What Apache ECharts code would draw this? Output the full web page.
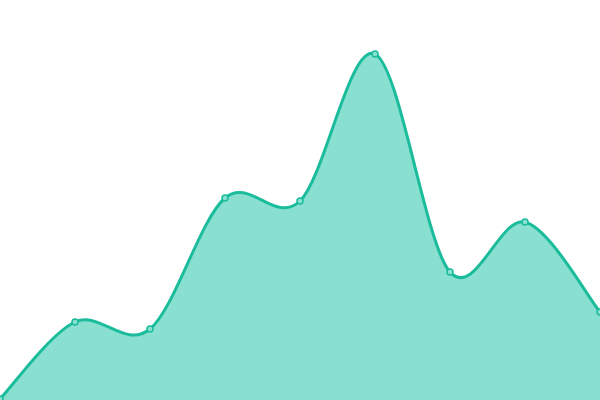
<!DOCTYPE html>
<html>
<head>
<meta charset="utf-8">
<script src="https://cdn.jsdelivr.net/npm/echarts@6/dist/echarts.min.js"></script>
<style>html,body{margin:0;padding:0;background:#fff}#c{width:600px;height:400px}</style>
</head>
<body>
<div id="c"></div>
<script>
var categories = ['1','2','3','4','5','6','7','8','9'];
var values = [1, 78, 71, 202, 199, 346, 128, 178, 88];

var lineColor = '#1abc9c';
var areaColor = '#8ae0d0';

function cardinalPath(pts) {
  var d = 'M' + pts[0][0] + ' ' + pts[0][1];
  for (var i = 0; i < pts.length - 1; i++) {
    var p0 = pts[i - 1] || pts[i];
    var p1 = pts[i];
    var p2 = pts[i + 1];
    var p3 = pts[i + 2] || pts[i + 1];
    var c1x = p1[0] + (p2[0] - p0[0]) / 6;
    var c1y = p1[1] + (p2[1] - p0[1]) / 6;
    var c2x = p2[0] - (p3[0] - p1[0]) / 6;
    var c2y = p2[1] - (p3[1] - p1[1]) / 6;
    d += ' C' + c1x + ' ' + c1y + ' ' + c2x + ' ' + c2y + ' ' + p2[0] + ' ' + p2[1];
  }
  return d;
}

var chart = echarts.init(document.getElementById('c'));
chart.setOption({
  animation: false,
  grid: {left: 0, right: 0, top: 0, bottom: 0},
  xAxis: {type: 'category', data: categories, boundaryGap: false, show: false},
  yAxis: {type: 'value', min: 0, max: 400, show: false},
  series: [{
    type: 'custom',
    data: values.map(function (v, i) { return [i, v]; }),
    encode: {x: 0, y: 1},
    renderItem: function (params, api) {
      if (params.dataIndex !== 0) return null;
      var pts = values.map(function (v, i) { return api.coord([i, v]); });
      var line = cardinalPath(pts);
      var first = api.coord([0, 0]);
      var last = api.coord([values.length - 1, 0]);
      var area = line + ' L' + last[0] + ' ' + last[1] + ' L' + first[0] + ' ' + first[1] + ' Z';
      return {
        type: 'group',
        children: [
          {type: 'path', shape: {pathData: area}, style: {fill: areaColor, stroke: null}},
          {type: 'path', shape: {pathData: line}, style: {fill: null, stroke: lineColor, lineWidth: 3}}
        ]
      };
    },
    z: 1
  }, {
    type: 'line',
    data: values,
    symbol: 'circle',
    symbolSize: 6,
    lineStyle: {width: 0, opacity: 0},
    itemStyle: {color: areaColor, borderColor: lineColor, borderWidth: 1.5},
    z: 3
  }]
});
</script>
</body>
</html>
